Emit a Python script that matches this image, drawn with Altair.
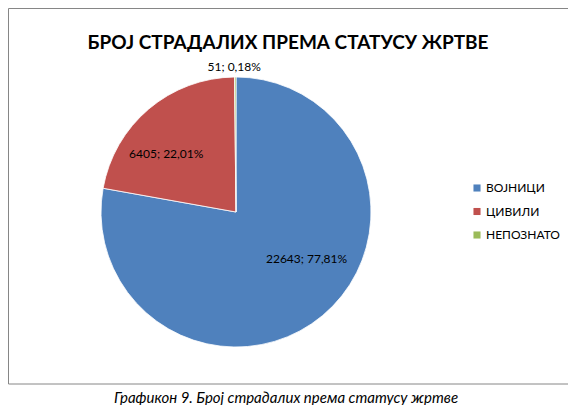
import altair as alt
import pandas as pd

cats = ["ВОЈНИЦИ", "ЦИВИЛИ", "НЕПОЗНАТО"]
values = [22643, 6405, 51]
labels = ["22643; 77,81%", "6405; 22,01%", "51; 0,18%"]
colors = ["#4F81BD", "#C0504D", "#9BBB59"]

title_text = "БРОЈ СТРАДАЛИХ ПРЕМА СТАТУСУ ЖРТВЕ"
caption_text = "Графикон 9. Број страдалих према статусу жртве"

FONT = "Lato, Open Sans, Noto Sans, sans-serif"

df = pd.DataFrame({"status": cats, "value": values, "label": labels,
                   "idx": list(range(len(cats)))})
one = alt.Data(values=[{"k": 1}])

CX, CY, R = 228, 204, 135

frame = alt.Chart(one).mark_rect(fill="white", stroke="#868686", strokeWidth=1).encode(
    x=alt.value(0.5), x2=alt.value(562), y=alt.value(0.5), y2=alt.value(376)
)

base = alt.Chart(df).encode(
    theta=alt.Theta("value:Q", stack=True),
    order=alt.Order("idx:Q"),
    x=alt.value(CX), y=alt.value(CY),
)

pie = base.mark_arc(radius=R, stroke="white", strokeWidth=0.8).encode(
    color=alt.Color("status:N", scale=alt.Scale(domain=cats, range=colors),
                    legend=alt.Legend(title=None, orient="none", legendX=463, legendY=174,
                                      symbolType="square", symbolSize=50, symbolStrokeWidth=0,
                                      labelFont=FONT, labelFontSize=12, labelColor="#000",
                                      rowPadding=11.5, labelOffset=3)),
)

def lab(name, r, dx, dy):
    return base.mark_text(radius=r, dx=dx, dy=dy, font=FONT, fontSize=12, color="#000").encode(
        text=alt.condition(alt.datum.status == name, alt.Text("label:N"), alt.value(""))
    )

t1 = lab(cats[0], 85, 16, -18)
t2 = lab(cats[1], 91, -11, 11)
t3 = lab(cats[2], 145, -1, 0)

title = alt.Chart(one).mark_text(text=title_text, font=FONT, fontSize=19, fontWeight="bold",
                                 color="#000", align="center", baseline="middle").encode(
    x=alt.value(280), y=alt.value(35))
caption = alt.Chart(one).mark_text(text=caption_text, font=FONT, fontSize=15, fontStyle="italic",
                                   color="#000", align="center", baseline="middle").encode(
    x=alt.value(278), y=alt.value(390))

chart = alt.layer(frame, pie, t1, t2, t3, title, caption).properties(
    width=560, height=397, padding=0, autosize=alt.AutoSizeParams(type="none")
).configure_view(stroke=None)

chart.save("out.html", embed_options={"renderer": "svg", "actions": False})
